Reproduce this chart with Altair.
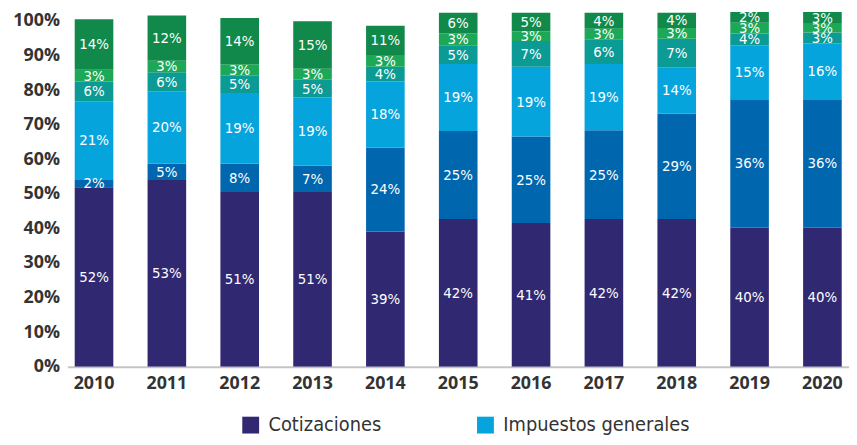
import altair as alt
import pandas as pd

years = ["2010", "2011", "2012", "2013", "2014", "2015", "2016", "2017", "2018", "2019", "2020"]

series = ["Cotizaciones", "Aportaciones del Estado", "Impuestos generales",
          "Otros ingresos", "Rendimientos", "Transferencias"]
colors = ["#312872", "#0067ae", "#06a4dd", "#0b9a94", "#1ca857", "#10894a"]

# segment heights (%) as drawn in the picture
h_cot = [51.9, 54.0, 50.5, 50.5, 39.1, 42.7, 41.6, 42.7, 42.7, 40.2, 40.2]
h_est = [2.3, 4.8, 8.3, 7.7, 24.3, 25.5, 25.0, 25.7, 30.5, 37.2, 37.2]
h_imp = [22.6, 20.9, 20.4, 19.7, 19.1, 19.4, 20.2, 19.2, 13.4, 15.6, 16.1]
h_otr = [5.7, 5.5, 5.0, 5.1, 4.3, 5.4, 7.4, 7.1, 8.3, 3.4, 3.2]
h_ren = [3.4, 3.3, 3.3, 3.2, 3.4, 3.4, 2.8, 3.1, 3.1, 3.1, 2.7]
h_tra = [14.6, 13.1, 13.4, 13.7, 8.4, 6.0, 5.4, 4.6, 4.4, 3.1, 3.2]

# printed labels (%)
l_cot = [52, 53, 51, 51, 39, 42, 41, 42, 42, 40, 40]
l_est = [2, 5, 8, 7, 24, 25, 25, 25, 29, 36, 36]
l_imp = [21, 20, 19, 19, 18, 19, 19, 19, 14, 15, 16]
l_otr = [6, 6, 5, 5, 4, 5, 7, 6, 7, 4, 3]
l_ren = [3, 3, 3, 3, 3, 3, 3, 3, 3, 3, 3]
l_tra = [14, 12, 14, 15, 11, 6, 5, 4, 4, 2, 3]

yticks = list(range(0, 101, 10))

heights = [h_cot, h_est, h_imp, h_otr, h_ren, h_tra]
labels = [l_cot, l_est, l_imp, l_otr, l_ren, l_tra]

rows = []
for i, y in enumerate(years):
    base = 0.0
    for k, s in enumerate(series):
        v = heights[k][i]
        rows.append({"year": y, "serie": s, "order": k, "y0": base, "y1": base + v,
                     "mid": base + v / 2, "label": f"{labels[k][i]}%"})
        base += v
df = pd.DataFrame(rows)

ysc = alt.Scale(domain=[0, 102.6], nice=False, zero=True)
xsc = alt.Scale(paddingInner=0.47, paddingOuter=0.1)
xaxis = alt.Axis(labelAngle=0, domainColor="#c4c4c4", domainWidth=2, ticks=False,
                 labelFont="Open Sans", labelFontWeight="bold", labelFontSize=18,
                 labelColor="#333333", labelPadding=8, title=None)
yaxis = alt.Axis(values=yticks, labelExpr="datum.value + '%'",
                 domain=False, ticks=False, grid=False, labelFont="Open Sans",
                 labelFontWeight="bold", labelFontSize=18, labelColor="#333333",
                 labelPadding=8, labelOverlap=False, title=None)

base = alt.Chart(df)

bars = base.mark_bar(clip=True).encode(
    x=alt.X("year:N", sort=years, scale=xsc, axis=xaxis),
    y=alt.Y("y0:Q", scale=ysc, axis=yaxis),
    y2="y1:Q",
    color=alt.Color("serie:N", scale=alt.Scale(domain=series, range=colors),
                    legend=alt.Legend(values=["Cotizaciones", "Impuestos generales"],
                                      orient="none", legendX=175, legendY=407,
                                      direction="horizontal", title=None,
                                      symbolType="square", symbolSize=289,
                                      symbolStrokeWidth=0, symbolOpacity=1,
                                      labelFont="DejaVu Sans Condensed", labelFontSize=20,
                                      labelColor="#333333", labelOffset=8, labelLimit=400,
                                      columnPadding=95, padding=0)),
    order=alt.Order("order:Q"),
)

text = base.mark_text(color="white", font="DejaVu Sans Condensed", fontSize=15,
                      baseline="middle", clip=False).encode(
    x=alt.X("year:N", sort=years, scale=xsc, axis=xaxis),
    y=alt.Y("mid:Q", scale=ysc, axis=yaxis),
    text="label:N",
)

chart = (bars + text).properties(
    width=789, height=358, autosize="none",
    padding={"left": 60, "top": 2, "right": 0, "bottom": 77},
).configure_view(stroke=None)

chart.save("out.html", embed_options={"renderer": "svg", "actions": False})
